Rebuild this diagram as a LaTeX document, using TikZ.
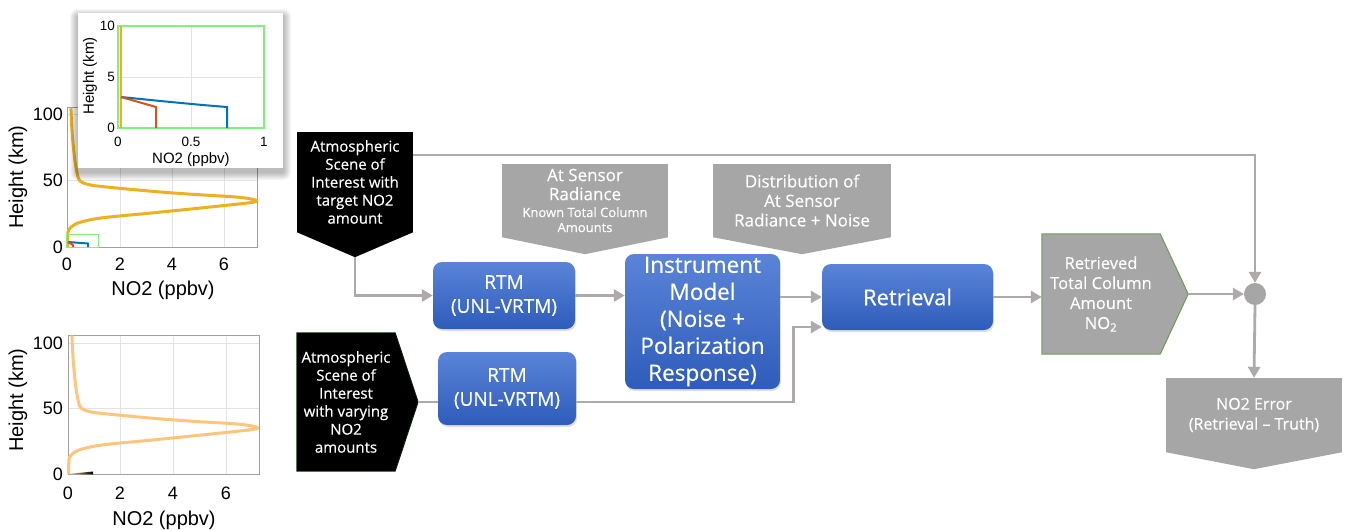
\documentclass[tikz,border=0pt]{standalone}
\usepackage{fontspec}
\setmainfont{Open Sans}[FakeBold=0.4]
\newfontfamily\plotfont{Liberation Sans}
\usetikzlibrary{arrows.meta,shadows,calc}

\definecolor{flowgray}{HTML}{A6A6A6}
\definecolor{linkgray}{HTML}{AEAAAA}
\definecolor{bluetop}{HTML}{5A84D8}
\definecolor{bluebot}{HTML}{2E5CBA}
\definecolor{goldline}{HTML}{EDB120}
\definecolor{paleorange}{HTML}{FFC57C}
\definecolor{mblue}{HTML}{0072BD}
\definecolor{mred}{HTML}{D95319}
\definecolor{zoomgreen}{HTML}{7CF47C}
\definecolor{gridgray}{HTML}{E3E3E3}
\definecolor{axisgray}{HTML}{A0A0A0}
\definecolor{edgegreen}{HTML}{6E9A52}

\tikzset{
  model/.style={rounded corners=9pt, top color=bluetop, bottom color=bluebot,
    text=white, align=center, inner sep=0pt,
    drop shadow={opacity=0.25, shadow xshift=1pt, shadow yshift=-2pt}},
  scenebox/.style={fill=black, text=white, align=center, inner sep=0pt,
    font=\fontsize{15}{18}\selectfont},
  infobox/.style={fill=flowgray, text=white, align=center, inner sep=0pt},
  link/.style={draw=linkgray, line width=2.8pt},
  linkarrow/.style={link, -{Triangle[length=11pt,width=12pt]}},
  ticklabel/.style={font=\plotfont\fontsize{18}{20}\selectfont, inner sep=0pt},
  axislabel/.style={font=\plotfont\fontsize{20}{22}\selectfont, inner sep=0pt},
  smalltick/.style={font=\plotfont\fontsize{13.5}{15}\selectfont, inner sep=0pt},
  smalllabel/.style={font=\plotfont\fontsize{15}{17}\selectfont, inner sep=0pt}
}

% NO2 profile, origin at (0 ppbv, 0 km)
\newcommand\profile[1]{\draw[#1, line width=3pt, line join=round]
  plot[smooth, tension=0.5] coordinates {(3.9,-138.6) (5.2,-113.5) (7.8,-87.1)
  (10.4,-72.6) (13,-66) (23.4,-62) (49.4,-59) (93.6,-55) (130,-52.4)
  (166.4,-50.2) (182,-48.4) (189.8,-46.2) (182,-44.2) (132.6,-38.9)
  (83.2,-33.9) (33.8,-29) (10.4,-23.8) (1.8,-17.2) (0.8,-10.6) (0.5,0)};}

\begin{document}
\begin{tikzpicture}[x=1pt,y=-1pt]
\path[fill=white] (0,0) rectangle (1346,530);
\useasboundingbox (0,0) rectangle (1346,530);

% top profile plot
\foreach \x in {120,172,224} \draw[gridgray] (\x,107) -- (\x,247);
\foreach \y in {114,180} \draw[gridgray] (67,\y) -- (257,\y);
\draw[axisgray, line width=0.8pt] (67,107) rectangle (257,247);
\begin{scope}[shift={(67,247)}]
  \profile{goldline}
\end{scope}
\draw[zoomgreen, line width=1pt] (66,234) rectangle (98,247);
\draw[mblue, line width=2pt] (68,242) -- (88,243.5) -- (88,247);
\draw[mred, line width=2pt] (68,242) -- (73,245) -- (73,247);
\foreach \v/\x in {0/67,2/120,4/172,6/224}
  \node[ticklabel] (tx\v) at (\x,264) {\v};
\foreach \h/\y in {0/247,50/180,100/114}
  \node[ticklabel, anchor=east] (ty\h) at (63,\y) {\h};
\node[axislabel] (xlab1) at (163,290) {NO2 (ppbv)};
\node[axislabel, rotate=90] (ylab1) at (18,177) {Height (km)};

% zoomed inset
\foreach \s in {1,...,8}
  \fill[black, opacity=0.035, rounded corners=\s pt] (78-\s,17-\s) rectangle (283+\s,172+\s);
\fill[white] (78,13) rectangle (283,168);
\draw[gridgray] (191,26) -- (191,128);
\draw[gridgray] (118,77) -- (264,77);
\draw[zoomgreen, line width=1.2pt] (118,26) rectangle (264,128);
\draw[goldline, line width=2pt] (121,26) -- (121,128);
\draw[mblue, line width=2pt] (121,97) .. controls (160,101) and (200,105) .. (227,107) -- (227,128);
\draw[mred, line width=2pt] (121,97) -- (156,107) -- (156,128);
\foreach \v/\x in {0/118,0.5/191,1/264}
  \node[smalltick] (ix\v) at (\x,142) {\v};
\foreach \h/\y in {0/128,5/77,10/26}
  \node[smalltick, anchor=east] (iy\h) at (115,\y) {\h};
\node[smalllabel] (ixlab) at (191,160) {NO2 (ppbv)};
\node[smalllabel, rotate=90] (iylab) at (90,76) {Height (km)};

% bottom profile plot
\foreach \x in {120,173,226} \draw[gridgray] (\x,335) -- (\x,474);
\foreach \y in {343,408} \draw[gridgray] (68,\y) -- (259,\y);
\draw[axisgray, line width=0.8pt] (68,335) rectangle (259,474);
\begin{scope}[shift={(68,474)}]
  \profile{paleorange}
\end{scope}
\shade[left color=paleorange, right color=black] (68,474) -- (93,471.5) -- (93,474.5) -- cycle;
\foreach \v/\x in {0/68,2/120,4/173,6/226}
  \node[ticklabel] (bx\v) at (\x,493) {\v};
\foreach \h/\y in {0/474,50/408,100/343}
  \node[ticklabel, anchor=east] (by\h) at (63,\y) {\h};
\node[axislabel] (xlab2) at (164,520) {NO2 (ppbv)};
\node[axislabel, rotate=90] (ylab2) at (18,400) {Height (km)};

% flow chart
\node[scenebox, minimum width=116, minimum height=100] (scene1) at (355,182)
  {Atmospheric\\Scene of\\Interest with\\target NO2\\amount};
\node[scenebox, minimum width=98, minimum height=138] (scene2) at (346,402)
  {Atmospheric\\Scene of\\Interest\\with varying\\NO2\\amounts};
\node[model, minimum width=142, minimum height=67, font=\fontsize{19}{24}\selectfont]
  (rtm1) at (504,295.5) {RTM\\(UNL-VRTM)};
\node[model, minimum width=138, minimum height=73, font=\fontsize{19}{24}\selectfont]
  (rtm2) at (507,388.5) {RTM\\(UNL-VRTM)};
\node[model, minimum width=155, minimum height=135, font=\fontsize{22.5}{27}\selectfont]
  (instr) at (702.5,321.5) {Instrument\\Model\\(Noise +\\Polarization\\Response)};
\node[model, minimum width=171, minimum height=66, font=\fontsize{22}{26}\selectfont]
  (retr) at (907.5,297) {Retrieval};
\node[infobox, minimum width=166, minimum height=73, font=\fontsize{17}{19}\selectfont]
  (sensor) at (585,200.5) {At Sensor\\Radiance\\[-2pt]{\fontsize{13}{15}\selectfont Known Total Column}\\[-4pt]{\fontsize{13}{15}\selectfont Amounts}};
\node[infobox, minimum width=178, minimum height=73, font=\fontsize{17}{19.5}\selectfont]
  (noise) at (802,200.5) {Distribution of\\At Sensor\\Radiance + Noise};
\node[infobox, minimum width=118, minimum height=120, font=\fontsize{16.5}{20}\selectfont]
  (retd) at (1101,294) {Retrieved\\Total Column\\Amount\\NO\textsubscript{2}};
\node[infobox, minimum width=176, minimum height=74, font=\fontsize{16}{20}\selectfont]
  (error) at (1254,415) {NO2 Error\\(Retrieval – Truth)};
\node[circle, fill=flowgray, minimum size=22, inner sep=0pt] (diff) at (1255,294) {};

% pointers of the callouts
\foreach \n/\d/\c in {scene1/25/black,sensor/17/flowgray,noise/17/flowgray,error/17/flowgray}
  \fill[\c] (\n.south west) -- ($(\n.south)+(0,\d)$) coordinate (\n-tip) -- (\n.south east) -- cycle;
\fill[black] (scene2.north east) -- ($(scene2.east)+(23,0)$) coordinate (scene2-tip) -- (scene2.south east) -- cycle;
\fill[flowgray] (retd.north east) -- ($(retd.east)+(28,0)$) coordinate (retd-tip) -- (retd.south east) -- cycle;
\draw[edgegreen, line width=1pt] (retd.north east) -- (retd-tip) -- (retd.south east)
  -- (retd.south west) -- (retd.north west) -- cycle;
\draw[black!60!green!40!black, line width=0.8pt] (scene2.north east) -- (scene2-tip) -- (scene2.south east)
  -- (scene2.south west) -- (scene2.north west) -- cycle;

% links
\draw[linkarrow] ([yshift=27pt]scene1.east) -| (diff.north);
\draw[linkarrow] (scene1-tip) |- (rtm1.west);
\draw[link] (scene2-tip) -- (scene2-tip -| rtm2.west);
\draw[linkarrow] (scene2-tip -| rtm2.east) -| ([xshift=-28pt,yshift=-30pt]retr.west) -- ([yshift=-30pt]retr.west);
\draw[linkarrow] (rtm1.east) -- (rtm1.east -| instr.west);
\draw[linkarrow] (instr.east |- retr.west) -- (retr.west);
\draw[linkarrow] (retr.east) -- (retr.east -| retd.west);
\draw[linkarrow] (retd-tip) -- (diff.west);
\draw[linkarrow] (diff.south) -- (error.north);
\end{tikzpicture}
\end{document}
